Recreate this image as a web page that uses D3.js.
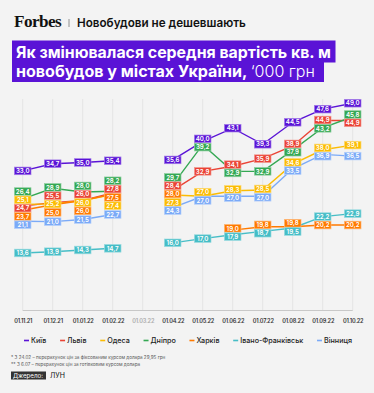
<!DOCTYPE html>
<html>
<head>
<meta charset="utf-8">
<script src="https://cdn.jsdelivr.net/npm/d3@7"></script>
<style>
  body { margin: 0; background: #f3f3f3; }
  svg { display: block; font-family: Inter, Roboto, "Noto Sans", sans-serif; }
</style>
</head>
<body>
<div id="chart"></div>
<script>
// data, '000 UAH per sq. m
var dates = ["01.11.21","01.12.21","01.01.22","01.02.22","01.03.22","01.04.22","01.05.22","01.06.22","01.07.22","01.08.22","01.09.22","01.10.22"];
var cities = ["Київ","Львів","Одеса","Дніпро","Харків","Івано-Франківськ","Вінниця"];
var colors = ["#5a13d6","#ea4335","#fbbc04","#34a853","#ff7a00","#46bdc6","#7baaf7"];

var kyiv      = [33.0, 34.7, 35.0, 35.4, null, 35.6, 40.0, 43.1, 39.3, 44.5, 47.6, 49.0];
var lviv      = [24.7, 25.5, 26.0, 27.8, null, 28.4, 32.9, 34.1, 35.9, 38.9, 44.9, 44.9];
var odesa     = [25.1, 25.2, 26.0, 27.4, null, 27.3, 27.0, 28.3, 28.5, 34.6, 38.0, 39.1];
var dnipro    = [26.4, 28.9, 28.0, 28.2, null, 29.7, 39.2, 32.9, 32.9, 37.9, 43.2, 45.8];
var kharkiv   = [23.7, 25.0, 26.0, 27.5, null, 28.0, null, 19.0, 19.8, 19.8, 20.2, 20.2];
var frankivsk = [13.6, 13.9, 14.3, 14.7, null, 16.0, 17.0, 17.9, 18.7, 19.5, 22.2, 22.9];
var vinnytsia = [21.1, 21.0, 21.5, 22.7, null, 24.3, 27.0, 27.0, 27.0, 33.5, 36.9, 36.5];

var series = [kyiv, lviv, odesa, dnipro, kharkiv, frankivsk, vinnytsia];

var width = 374, height = 393;

var svg = d3.select("#chart").append("svg")
    .attr("width", width)
    .attr("height", height);

svg.append("rect").attr("width", width).attr("height", height).attr("fill", "#f3f3f3");

// scale text so it spans a given width
function fit(sel, w) {
    var fs = parseFloat(sel.attr("font-size"));
    var len = sel.node().getComputedTextLength();
    sel.attr("font-size", fs * w / len);
}

// header
var logo = svg.append("text")
    .attr("x", 14).attr("y", 27)
    .attr("font-family", "Liberation Serif, DejaVu Serif, serif")
    .attr("font-weight", "bold")
    .attr("font-size", 17)
    .attr("letter-spacing", -0.6)
    .attr("fill", "#111")
    .text("Forbes");
fit(logo, 47);

svg.append("line")
    .attr("x1", 69).attr("x2", 69).attr("y1", 19).attr("y2", 27)
    .attr("stroke", "#777").attr("stroke-width", 0.8);

var sub = svg.append("text")
    .attr("x", 77).attr("y", 27)
    .attr("font-size", 10)
    .attr("font-weight", 600)
    .attr("fill", "#111")
    .text("Новобудови не дешевшають");
fit(sub, 169);

// title with highlight
svg.append("rect").attr("x", 12).attr("y", 40.5).attr("width", 323.5).attr("height", 22).attr("fill", "#5a13d6");
svg.append("rect").attr("x", 12).attr("y", 62).attr("width", 312).attr("height", 20).attr("fill", "#5a13d6");

var t1 = svg.append("text")
    .attr("x", 16).attr("y", 57.5)
    .attr("font-size", 16).attr("font-weight", 700).attr("fill", "#fff")
    .text("Як змінювалася середня вартість кв. м");
fit(t1, 315);

var t2 = svg.append("text")
    .attr("x", 16).attr("y", 77)
    .attr("font-size", t1.attr("font-size")).attr("font-weight", 700).attr("fill", "#fff");
t2.append("tspan").text("новобудов у містах України, ");
t2.append("tspan").attr("font-weight", 300).text("‘000 грн");
fit(t2, 299);

// scales
var x = d3.scalePoint().domain(dates).range([22.7, 352.7]);
var y = d3.scaleLinear().domain([0, 50]).range([310.5, 99]);

// grid
svg.append("g").selectAll("line")
    .data(dates)
    .join("line")
    .attr("x1", function(d) { return x(d); })
    .attr("x2", function(d) { return x(d); })
    .attr("y1", y(50)).attr("y2", y(0))
    .attr("stroke", "#e4e4e4").attr("stroke-width", 1);

svg.append("line")
    .attr("x1", x(dates[0])).attr("x2", x(dates[dates.length - 1]))
    .attr("y1", y(0)).attr("y2", y(0))
    .attr("stroke", "#c8c8c8").attr("stroke-width", 1);

// x axis labels
var xAxis = svg.append("g")
    .attr("transform", "translate(0," + (y(0) + 1) + ")")
    .call(d3.axisBottom(x).tickSize(0).tickPadding(8));
xAxis.select(".domain").remove();
xAxis.selectAll("text")
    .attr("font-family", "Inter, Roboto, sans-serif")
    .attr("font-size", 5.6)
    .attr("font-weight", 600)
    .attr("letter-spacing", -0.2)
    .attr("fill", function(d) { return d === "01.03.22" ? "#aaa" : "#333"; });

// lines
var line = d3.line()
    .defined(function(d) { return d != null; })
    .x(function(d, i) { return x(dates[i]); })
    .y(function(d) { return y(d); });

svg.append("g").selectAll("path")
    .data(series)
    .join("path")
    .attr("d", line)
    .attr("fill", "none")
    .attr("stroke", function(d, i) { return colors[i]; })
    .attr("stroke-width", 1.4);

// value labels, nudged apart where they would overlap
var labels = [];
dates.forEach(function(dt, j) {
    var col = [];
    series.forEach(function(s, i) {
        if (s[j] != null) col.push({ v: s[j], c: i, j: j, y0: y(s[j]), y: y(s[j]) });
    });
    col.sort(function(a, b) { return a.y0 - b.y0; });
    var h = 8.3;
    for (var k = 0; k < 60; k++) {
        for (var n = 1; n < col.length; n++) {
            var ov = h - (col[n].y - col[n - 1].y);
            if (ov > 0) { col[n - 1].y -= ov / 2; col[n].y += ov / 2; }
        }
    }
    labels = labels.concat(col);
});

var fmt = function(v) { return d3.format(".1f")(v).replace(".", ","); };

var lab = svg.append("g").selectAll("g")
    .data(labels)
    .join("g")
    .attr("transform", function(d) { return "translate(" + x(dates[d.j]) + "," + d.y + ")"; });

lab.append("rect")
    .attr("x", -8.3).attr("y", -3.8)
    .attr("width", 16.6).attr("height", 7.6)
    .attr("fill", function(d) { return colors[d.c]; })
    .attr("stroke", function(d) { return d3.interpolateRgb(colors[d.c], "#fff")(0.45); })
    .attr("stroke-width", 0.7);

lab.append("text")
    .attr("text-anchor", "middle")
    .attr("dy", "0.36em")
    .attr("font-size", 6.2)
    .attr("font-weight", 600)
    .attr("fill", "#fff")
    .text(function(d) { return fmt(d.v); });

// legend, spread from x=24 to x=352
var legend = svg.append("g").attr("transform", "translate(24,340.5)");
var items = cities.map(function(c, i) {
    var g = legend.append("g");
    g.append("rect").attr("x", 0).attr("y", -0.8).attr("width", 5).attr("height", 1.6).attr("fill", colors[i]);
    var tx = g.append("text")
        .attr("x", 7).attr("dy", "0.35em")
        .attr("font-size", 7.2).attr("font-weight", 500).attr("fill", "#222")
        .text(c);
    return { g: g, w: 7 + tx.node().getComputedTextLength() };
});
var gap = (328 - d3.sum(items, function(d) { return d.w; })) / (items.length - 1);
var lx = 0;
items.forEach(function(d) {
    d.g.attr("transform", "translate(" + lx + ",0)");
    lx += d.w + gap;
});

// footnotes
svg.append("text").attr("x", 11).attr("y", 359)
    .attr("font-size", 4.6).attr("fill", "#555")
    .text("* З 24.02 – перерахунок цін за фіксованим курсом долара 29,95 грн");
svg.append("text").attr("x", 11).attr("y", 366)
    .attr("font-size", 4.6).attr("fill", "#555")
    .text("** З 6.07 – перерахунок цін за готівковим курсом долара");

// source
svg.append("rect").attr("x", 11).attr("y", 371.5).attr("width", 35).attr("height", 8).attr("fill", "#333");
svg.append("text").attr("x", 13).attr("y", 377.8)
    .attr("font-size", 6.2).attr("fill", "#fff")
    .text("Джерело:");
svg.append("text").attr("x", 50).attr("y", 378.2)
    .attr("font-size", 7).attr("fill", "#111")
    .text("ЛУН");
</script>
</body>
</html>
